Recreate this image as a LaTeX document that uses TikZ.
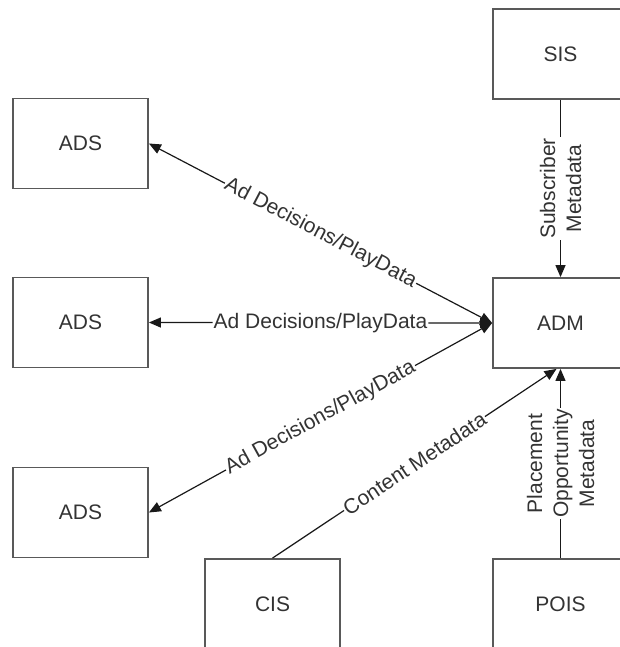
\documentclass[tikz,border=0pt]{standalone}
\usepackage{fontspec}
\setmainfont{Liberation Sans}
\usetikzlibrary{arrows.meta}
\begin{document}
\begin{tikzpicture}[x=1pt,y=-1pt,
  box/.style={draw=black!65, line width=1.8pt, minimum width=135pt, minimum height=90pt, inner sep=0pt, font=\fontsize{21}{25}\selectfont, text=black!80},
  conn/.style={line width=1.2pt, draw=black!90},
  tip/.style={-{Triangle[length=12pt,width=10pt]}},
  twotip/.style={{Triangle[length=12pt,width=10pt]}-{Triangle[length=12pt,width=10pt]}},
  lbl/.style={fill=white, inner sep=1pt, font=\fontsize{21}{26}\selectfont, text=black!80}]
\useasboundingbox (0,0) rectangle (620,647);
\clip (0,0) rectangle (620,647);
\node[box] (ads1) at (80.5,143.5) {ADS};
\node[box] (ads2) at (80.5,322.5) {ADS};
\node[box] (ads3) at (80.5,512.5) {ADS};
\node[box] (sis) at (560.5,54) {SIS};
\node[box] (adm) at (560.5,323) {ADM};
\node[box] (cis) at (272.5,604) {CIS};
\node[box] (pois) at (560.5,604) {POIS};

\draw[conn,twotip] (adm.west) -- node[lbl,sloped] {Ad Decisions/PlayData} (ads1.east);
\draw[conn,twotip] (adm.west) -- node[lbl,sloped] {Ad Decisions/PlayData} (ads2.east);
\draw[conn,twotip] (adm.west) -- node[lbl,sloped] {Ad Decisions/PlayData} (ads3.east);
\draw[conn,tip] (sis.south) -- node[lbl,rotate=90,align=center] {Subscriber\\Metadata} (adm.north);
\draw[conn,tip] (cis.north) -- node[lbl,sloped] {Content Metadata} ([xshift=-4pt]adm.south);
\draw[conn,tip] (pois.north) -- node[lbl,rotate=90,align=center] {Placement\\Opportunity\\Metadata} (adm.south);
\end{tikzpicture}
\end{document}
